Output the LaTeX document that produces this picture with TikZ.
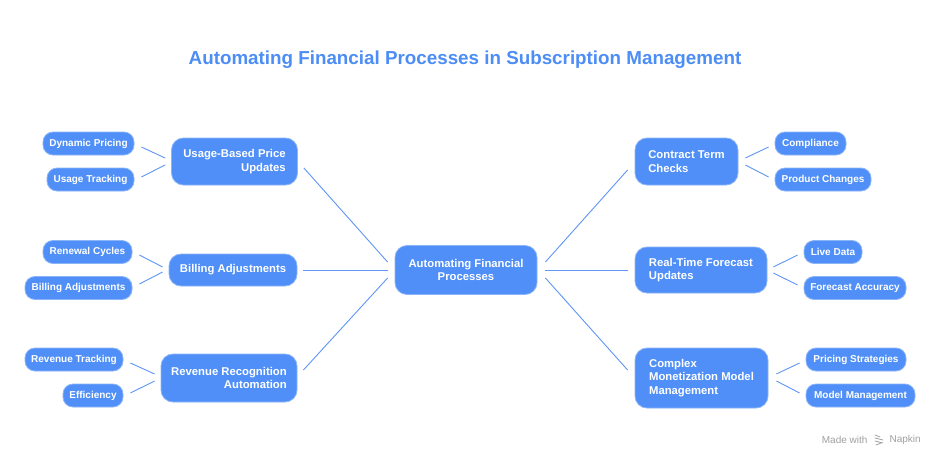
\documentclass[tikz,border=0pt]{standalone}
\usepackage{fontspec}
\setmainfont{Liberation Sans}
\usetikzlibrary{calc}
\definecolor{nblue}{HTML}{4F8FF7}
\definecolor{nedge}{HTML}{8CB4F8}
\definecolor{lblue}{HTML}{5E97F5}
\definecolor{tblue}{HTML}{4C8DF6}
\definecolor{wmgray}{HTML}{A0A0A0}
\begin{document}
\begin{tikzpicture}[x=1pt,y=-1pt,
  mainbox/.style={draw=nedge, line width=0.8pt, fill=nblue, text=white, rounded corners=12pt,
    inner xsep=4pt, inner ysep=3pt, font=\fontsize{11.3}{13.3}\selectfont\bfseries},
  subbox/.style={draw=nedge, line width=0.8pt, fill=nblue, text=white, rounded corners=10pt,
    inner xsep=3pt, inner ysep=2pt, minimum height=23pt, font=\fontsize{10}{12}\selectfont\bfseries},
  link/.style={draw=lblue, line width=0.9pt}]
\useasboundingbox (0,0) rectangle (940,458);
\fill[white] (0,0) rectangle (940,458);

\node[text=tblue, font=\fontsize{18.8}{22}\selectfont\bfseries] (title) at (465,60) {Automating Financial Processes in Subscription Management};

% center
\node[mainbox, align=center, minimum width=142pt, minimum height=49pt] (c) at (466,270) {Automating Financial\\Processes};

% left main
\node[mainbox, align=right, minimum width=126pt, minimum height=47pt] (u) at (234.5,161.5) {Usage-Based Price\\Updates};
\node[mainbox, align=right, minimum width=128pt, minimum height=32pt] (b) at (233,270) {Billing Adjustments};
\node[mainbox, align=right, minimum width=136pt, minimum height=48pt] (r) at (229,378) {Revenue Recognition\\Automation};

% right main
\node[mainbox, align=left, minimum width=103pt, minimum height=47pt] (ct) at (686.5,161.5) {Contract Term\\Checks};
\node[mainbox, align=left, minimum width=132pt, minimum height=46pt] (rt) at (701,270) {Real-Time Forecast\\Updates};
\node[mainbox, align=left, minimum width=133pt, minimum height=60pt] (cm) at (701.5,378) {Complex\\Monetization Model\\Management};

% left subs
\node[subbox, minimum width=91pt] (dp) at (88.5,143.5) {Dynamic Pricing};
\node[subbox, minimum width=87pt] (ut) at (90.5,179.5) {Usage Tracking};
\node[subbox, minimum width=89pt] (rc) at (87.5,252) {Renewal Cycles};
\node[subbox, minimum width=107pt] (ba) at (78.5,288) {Billing Adjustments};
\node[subbox, minimum width=98pt] (rv) at (74,359.5) {Revenue Tracking};
\node[subbox, minimum width=60pt] (ef) at (93,395.5) {Efficiency};

% right subs
\node[subbox, minimum width=71pt] (cp) at (810.5,143.5) {Compliance};
\node[subbox, minimum width=96pt] (pc) at (823,179.5) {Product Changes};
\node[subbox, minimum width=58pt] (ld) at (833,252) {Live Data};
\node[subbox, minimum width=102pt] (fa) at (855,288) {Forecast Accuracy};
\node[subbox, minimum width=100pt] (ps) at (856,359.5) {Pricing Strategies};
\node[subbox, minimum width=109pt] (mm) at (860.5,395.5) {Model Management};

% center connectors
\draw[link] ($(u.east)+(6,6.5)$) -- ($(c.west)+(-7,-8)$);
\draw[link] ($(b.east)+(6,0)$) -- ($(c.west)+(-7,0)$);
\draw[link] ($(r.east)+(6,-8)$) -- ($(c.west)+(-7,8)$);
\draw[link] ($(c.east)+(8,-8)$) -- ($(ct.west)+(-7,8.5)$);
\draw[link] ($(c.east)+(8,0)$) -- ($(rt.west)+(-7,0)$);
\draw[link] ($(c.east)+(8,8)$) -- ($(cm.west)+(-7,-8)$);

% left sub connectors
\draw[link] ($(dp.east)+(7,3.5)$) -- ($(u.west)+(-6,-3.5)$);
\draw[link] ($(ut.east)+(7,-2.5)$) -- ($(u.west)+(-6,3.5)$);
\draw[link] ($(rc.east)+(7,3)$) -- ($(b.west)+(-6,-3)$);
\draw[link] ($(ba.east)+(7,-4)$) -- ($(b.west)+(-6,2)$);
\draw[link] ($(rv.east)+(7,3.5)$) -- ($(r.west)+(-6,-4)$);
\draw[link] ($(ef.east)+(7,-2.5)$) -- ($(r.west)+(-6,3)$);

% right sub connectors
\draw[link] ($(ct.east)+(7,-3.5)$) -- ($(cp.west)+(-6,3.5)$);
\draw[link] ($(ct.east)+(7,3.5)$) -- ($(pc.west)+(-6,-2.5)$);
\draw[link] ($(rt.east)+(6,-3)$) -- ($(ld.west)+(-6,3)$);
\draw[link] ($(rt.east)+(6,3)$) -- ($(fa.west)+(-6,-3)$);
\draw[link] ($(cm.east)+(8,-4)$) -- ($(ps.west)+(-6,3.5)$);
\draw[link] ($(cm.east)+(8,3)$) -- ($(mm.west)+(-6,-2.5)$);

% watermark
\node[text=wmgray, font=\fontsize{10}{12}\selectfont, anchor=east] (mw) at (871,440) {Made with};
\node[text=wmgray, font=\fontsize{10}{12}\selectfont, anchor=west] (nk) at (886,440) {Napkin};
\draw[wmgray, line width=0.8pt, line cap=round] (875,435) -- (880,437) (875,438) -- (883,440) (875,441) -- (883,443) (876,445) -- (881,443);
\end{tikzpicture}
\end{document}
